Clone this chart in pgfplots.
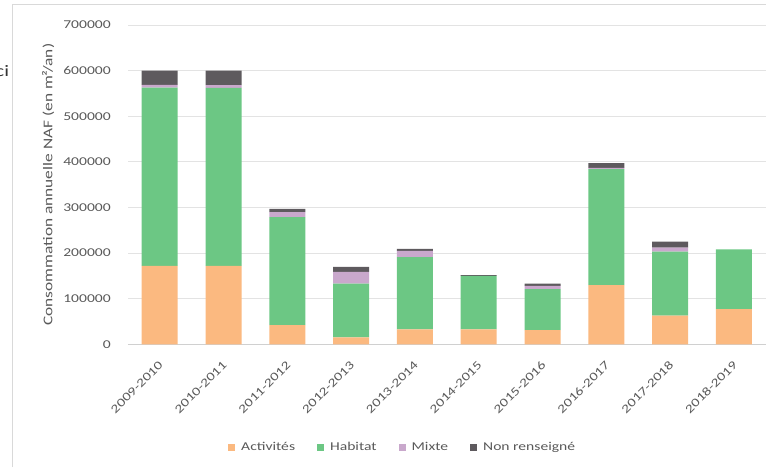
\documentclass[border=0pt]{standalone}
\usepackage{fontspec}
\setmainfont{Carlito}[FakeStretch=1.3]
\usepackage{pgfplots}
\pgfplotsset{compat=1.18}
\usepackage{pgfplotstable}
\definecolor{cAct}{HTML}{FBB980}
\definecolor{cHab}{HTML}{6CC784}
\definecolor{cMix}{HTML}{C9A8CC}
\definecolor{cNR}{HTML}{5E5A5E}
\definecolor{gridgray}{HTML}{E3E3E3}
\definecolor{axisgray}{HTML}{D0D0D0}
\definecolor{labelgray}{HTML}{595959}
\definecolor{framegray}{HTML}{D9D9D9}
\pgfplotstableread{
x act hab mix nr
0 172000 391000 6000 31000
1 172000 390000 6000 32000
2 42000 237000 11000 7000
3 15000 118000 26000 11000
4 33000 158000 14000 4000
5 33000 117000 0 1500
6 31000 90000 7000 5000
7 130000 254000 3000 10000
8 63000 140000 9000 13000
9 77000 131000 0 0
}\data
\begin{document}
\begin{tikzpicture}
\path[use as bounding box] (0,0) rectangle (574.5pt,350.25pt);
\draw[framegray, line width=0.75pt] (9pt,0) -- (9pt,346.5pt) -- (574.5pt,346.5pt);
\node[anchor=east, inner sep=0pt, text=black!80, font=\fontsize{12}{14}\selectfont] at (7pt,297pt) {ci};
\begin{axis}[
  at={(95.85pt,92pt)}, anchor=south west,
  width=478.5pt, height=239.5pt, scale only axis,
  ybar stacked, bar width=27pt,
  xmin=-0.5, xmax=9.5, ymin=0, ymax=700000,
  axis lines*=left,
  y axis line style={draw=none},
  x axis line style={draw=axisgray, line width=0.75pt},
  major tick length=0pt,
  ymajorgrids, grid style={draw=gridgray, line width=0.75pt},
  ytick={0,100000,...,700000},
  scaled y ticks=false,
  /pgf/number format/.cd, fixed, 1000 sep={}, assume math mode=true,
  /pgfplots/.cd,
  yticklabel style={anchor=east, inner sep=0pt, xshift=-12.6pt, text=labelgray, font=\fontsize{9}{11}\selectfont},
  xtick={0,...,9},
  xticklabels={2009-2010,2010-2011,2011-2012,2012-2013,2013-2014,2014-2015,2015-2016,2016-2017,2017-2018,2018-2019},
  xticklabel style={yshift=-14pt, xshift=1pt, rotate=45, anchor=east, inner sep=0pt, text=labelgray, font=\fontsize{9}{11}\selectfont},
  ylabel={Consommation annuelle NAF (en m²/an)},
  ylabel style={at={(axis description cs:-0.125,0.5)}, anchor=center, text=labelgray, font=\fontsize{10}{12}\selectfont},
  legend columns=-1,
  legend image code/.code={\fill[#1] (0pt,-2.6pt) rectangle (5.25pt,2.6pt);},
  legend style={draw=none, fill=none, at={(axis description cs:0.157,-0.324)}, anchor=west, inner sep=0pt,
    font=\fontsize{9}{11}\selectfont, text=labelgray,
    nodes={inner xsep=0pt, inner ysep=1pt},
    /tikz/every odd column/.append style={column sep=4.5pt},
    /tikz/every even column/.append style={column sep=16.5pt}},
]
\addplot[fill=cAct, draw=none] table[x=x, y=act] {\data};
\addplot[fill=cHab, draw=none] table[x=x, y=hab] {\data};
\addplot[fill=cMix, draw=none] table[x=x, y=mix] {\data};
\addplot[fill=cNR, draw=none] table[x=x, y=nr] {\data};
\legend{Activités, Habitat, Mixte, Non renseigné}
\end{axis}
\end{tikzpicture}
\end{document}
